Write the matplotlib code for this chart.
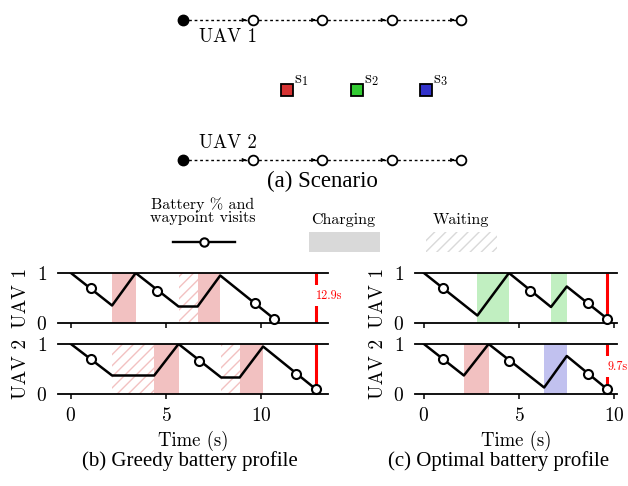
import matplotlib

matplotlib.use("Agg")
import matplotlib.pyplot as plt
from matplotlib.patches import Rectangle

plt.rcParams["font.family"] = "serif"
plt.rcParams["font.serif"] = ["cmr10"]
plt.rcParams["mathtext.fontset"] = "cm"
plt.rcParams["axes.formatter.use_mathtext"] = True
plt.rcParams["hatch.linewidth"] = 1.0

CAPTION_FONT = "Liberation Serif"

# --- scenario (a) ---
waypoints = [0, 1, 2, 3, 4]
uav_rows = {"UAV 1": 1.0, "UAV 2": -1.0}
station_x = [1.5, 2.5, 3.5]
station_labels = [r"$\mathrm{s}_1$", r"$\mathrm{s}_2$", r"$\mathrm{s}_3$"]
station_colors = ["#d63333", "#33cc33", "#3333cc"]

# --- battery profiles: (time, battery) corners, waypoint visits, charge/wait spans ---
greedy = {
    "UAV 1": dict(
        t=[0, 2.16, 3.40, 5.65, 6.65, 7.84, 10.65],
        b=[1.0, 0.35, 1.0, 0.33, 0.33, 0.95, 0.09],
        wp_t=[1.03, 4.51, 9.67, 10.65],
        wp_b=[0.70, 0.65, 0.40, 0.09],
        charge=[(2.16, 3.40, 0), (6.65, 7.84, 0)],
        wait=[(5.65, 6.65, 0)],
    ),
    "UAV 2": dict(
        t=[0, 2.16, 4.37, 5.65, 7.89, 8.86, 10.09, 12.85],
        b=[1.0, 0.37, 0.37, 1.0, 0.33, 0.33, 0.95, 0.10],
        wp_t=[1.03, 6.75, 11.84, 12.85],
        wp_b=[0.71, 0.67, 0.40, 0.10],
        charge=[(4.37, 5.65, 0), (8.86, 10.09, 0)],
        wait=[(2.16, 4.37, 0), (7.89, 8.86, 0)],
    ),
}
optimal = {
    "UAV 1": dict(
        t=[0, 2.81, 4.47, 6.68, 7.51, 9.62],
        b=[1.0, 0.15, 1.0, 0.32, 0.73, 0.09],
        wp_t=[1.02, 5.58, 8.62, 9.62],
        wp_b=[0.70, 0.65, 0.40, 0.09],
        charge=[(2.81, 4.47, 1), (6.68, 7.51, 1)],
        wait=[],
    ),
    "UAV 2": dict(
        t=[0, 2.10, 3.40, 6.32, 7.51, 9.62],
        b=[1.0, 0.37, 1.0, 0.13, 0.76, 0.10],
        wp_t=[1.02, 4.49, 8.62, 9.62],
        wp_b=[0.71, 0.67, 0.40, 0.10],
        charge=[(2.10, 3.40, 0), (6.32, 7.51, 2)],
        wait=[],
    ),
}
greedy_makespan, greedy_label, greedy_label_row = 12.85, "12.9s", "UAV 1"
optimal_makespan, optimal_label, optimal_label_row = 9.62, "9.7s", "UAV 2"

W, H = 628, 486
fig = plt.figure(figsize=(W / 100, H / 100), dpi=100)


def px_axes(x0, y0, x1, y1, **kw):
    # axes placed by pixel box (top-left origin)
    return fig.add_axes([x0 / W, 1 - y1 / H, (x1 - x0) / W, (y1 - y0) / H], **kw)


# scenario
ax = px_axes(183, 20, 461, 160)
ax.set_xlim(0, 4)
ax.set_ylim(-1, 1)
ax.axis("off")
for name, y in uav_rows.items():
    for a, b in zip(waypoints[:-1], waypoints[1:]):
        ax.plot([a, b], [y, y], ls=(0, (2, 2)), color="k", lw=1.0, clip_on=False)
        ax.annotate("", xy=(b, y), xytext=(b - 0.12, y),
                    arrowprops=dict(arrowstyle="-|>", color="k", lw=0.8,
                                    mutation_scale=5, shrinkA=0, shrinkB=4.5))
    ax.plot(waypoints[:1], [y], "o", color="k", ms=7.5, clip_on=False, zorder=3)
    ax.plot(waypoints[1:], [y] * 4, "o", mfc="white", mec="k", ms=7, mew=1.3,
            clip_on=False, zorder=3)
    dy = -17 if y > 0 else 17
    ax.annotate(name, (waypoints[0], y), xytext=(16, dy), textcoords="offset pixels",
                ha="left", va="center", fontsize=13.5)
for x, lab, c in zip(station_x, station_labels, station_colors):
    ax.plot([x], [0], "s", mfc=c, mec="k", ms=8, mew=1.3, clip_on=False)
    ax.annotate(lab, (x, 0), xytext=(7, 10), textcoords="offset pixels",
                ha="left", va="center", fontsize=12.5)

# overlay for legend and captions, in pixel units
ov = fig.add_axes([0, 0, 1, 1], zorder=-1)
ov.set_xlim(0, W)
ov.set_ylim(H, 0)
ov.axis("off")
ov.text(322, 181, "(a) Scenario", ha="center", va="center", fontsize=16.5,
        family=CAPTION_FONT)
ov.text(190, 461, "(b) Greedy battery profile", ha="center", va="center",
        fontsize=15, family=CAPTION_FONT)
ov.text(499, 461, "(c) Optimal battery profile", ha="center", va="center",
        fontsize=15, family=CAPTION_FONT)
ov.text(203, 211, "Battery % and\nwaypoint visits", ha="center", va="center",
        fontsize=11.5, linespacing=0.95)
ov.plot([173, 235], [242, 242], color="k", lw=1.7)
ov.plot([204], [242], "o", mfc="white", mec="k", ms=6, mew=1.5)
ov.text(343, 220, "Charging", ha="center", va="center", fontsize=11.5)
ov.add_patch(Rectangle((309, 232), 71, 20, facecolor="#d9d9d9", lw=0))
ov.text(461, 220, "Waiting", ha="center", va="center", fontsize=11.5)
ov.add_patch(Rectangle((426, 232), 71, 20, facecolor="none", edgecolor="#d9d9d9",
                       hatch="///", lw=0))


def draw_panel(ax, d, xlim, makespan, label, show_label, bottom):
    for t0, t1, s in d["charge"]:
        ax.axvspan(t0, t1, facecolor=station_colors[s], alpha=0.3, lw=0)
    for t0, t1, s in d["wait"]:
        ax.axvspan(t0, t1, facecolor="none", edgecolor=station_colors[s], alpha=0.3,
                   hatch="///", lw=0)
    ax.vlines(makespan, 0, 1, color="red", lw=2.2, zorder=2)
    if show_label:
        ax.text(makespan + 0.04, 0.55, label, color="red", fontsize=8.8, ha="left",
                va="center", zorder=3,
                bbox=dict(boxstyle="square,pad=0.35", fc="white", ec="none"))
    ax.plot(d["t"], d["b"], color="k", lw=1.8, zorder=4)
    ax.plot(d["wp_t"], d["wp_b"], "o", mfc="white", mec="k", ms=6.5, mew=1.5,
            zorder=5, clip_on=False)
    ax.set_xlim(*xlim)
    ax.set_ylim(0, 1)
    ax.set_yticks([0, 1])
    ax.set_xticks([0, 5, 10])
    for s in ("left", "right"):
        ax.spines[s].set_visible(False)
    for s in ("top", "bottom"):
        ax.spines[s].set_linewidth(1.3)
    ax.tick_params(labelsize=14, width=1.1)
    ax.tick_params(axis="x", pad=6)
    ax.tick_params(axis="y", length=0, pad=8)
    if bottom:
        ax.set_xlabel("Time (s)", fontsize=13.5, labelpad=4)
    else:
        ax.tick_params(axis="x", labelbottom=False)


for profile, x0, x1, xlim, mk, lab, lrow in [
    (greedy, 58, 328, (-0.68, 13.5), greedy_makespan, greedy_label, greedy_label_row),
    (optimal, 415, 617, (-0.47, 10.15), optimal_makespan, optimal_label, optimal_label_row),
]:
    for i, (row, (y0, y1)) in enumerate(zip(["UAV 1", "UAV 2"], [(273, 323), (344, 394)])):
        a = px_axes(x0, y0, x1, y1)
        draw_panel(a, profile[row], xlim, mk, lab, row == lrow, i == 1)
        a.set_ylabel(row, fontsize=14, labelpad=4)

fig.savefig("out.png", dpi=100)
